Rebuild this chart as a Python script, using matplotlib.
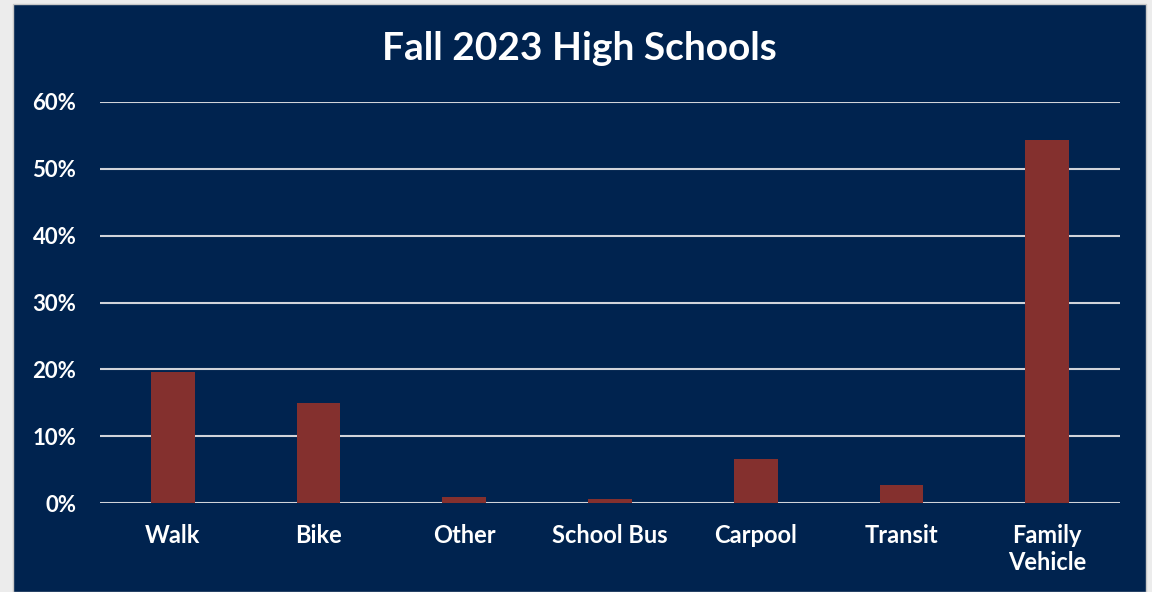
import matplotlib.pyplot as plt
import matplotlib.patches as patches
from matplotlib.ticker import PercentFormatter
import numpy as np

categories = ['Walk', 'Bike', 'Other', 'School Bus', 'Carpool', 'Transit', 'Family\nVehicle']
values = [0.196, 0.150, 0.009, 0.006, 0.066, 0.027, 0.543]
yticks = [0, 0.1, 0.2, 0.3, 0.4, 0.5, 0.6]

navy = '#00234f'
bar_color = '#84302e'
grid_color = '#d0d3da'

plt.rcParams['font.family'] = ['Lato', 'DejaVu Sans']

fig = plt.figure(figsize=(11.52, 5.92), dpi=100)
fig.patch.set_facecolor('#ececec')
fig.patches.append(patches.Rectangle((13 / 1152, 0), (1146 - 13) / 1152, 1 - 4 / 592,
                                     transform=fig.transFigure, facecolor=navy,
                                     edgecolor='#c8c8c8', linewidth=1, zorder=-1))

ax = fig.add_axes([100 / 1152, 1 - 503 / 592, (1120 - 100) / 1152, (503 - 102) / 592])
ax.set_facecolor('none')
ax.set_zorder(2)

x = np.arange(len(categories))
ax.bar(x, values, width=0.3, color=bar_color, zorder=3)

ax.set_xlim(-0.5, len(categories) - 0.5)
ax.set_ylim(0, 0.6)
ax.set_yticks(yticks)
ax.yaxis.set_major_formatter(PercentFormatter(1.0, decimals=0))
ax.grid(axis='y', color=grid_color, linewidth=1.5, zorder=1)
ax.set_axisbelow(True)

ax.set_xticks(x)
ax.set_xticklabels(categories, fontsize=17, fontweight='bold', color='white', linespacing=1.2)
ax.tick_params(axis='y', labelsize=16, labelcolor='white', length=0, pad=17)
ax.tick_params(axis='x', length=0, pad=15)
for lbl in ax.get_yticklabels():
    lbl.set_fontweight('bold')

for s in ax.spines.values():
    s.set_visible(False)

fig.text(0.503, 1 - 48 / 592, 'Fall 2023 High Schools', ha='center', va='center',
         fontsize=28, fontweight='bold', color='white')

plt.savefig('out.png', dpi=100, facecolor=fig.get_facecolor())
